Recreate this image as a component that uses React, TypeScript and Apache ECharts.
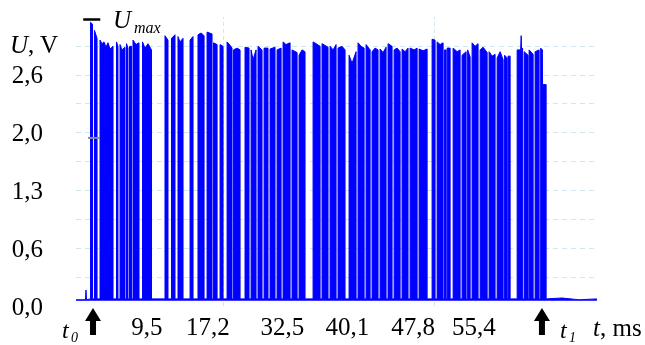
import { useEffect, useRef } from 'react';
import * as echarts from 'echarts';

// ---- data (time in ms, voltage in V) ----
// high pulses: rise and fall times
const pulseStart = [2.87, 3.33, 3.98, 5.91, 6.32, 7.08, 7.43, 7.84, 8.95, 11.58, 12.34, 13.10, 14.51, 15.44, 16.50, 17.26, 18.02, 18.84, 19.60, 20.94, 21.65, 22.46, 23.17, 23.87, 24.69, 25.39, 26.44, 27.26, 28.90, 29.95, 30.89, 31.82, 33.11, 34.16, 35.10, 35.80, 36.74, 37.67, 38.38, 39.31, 40.25, 41.30, 42.82, 43.41, 44.28, 44.58, 45.28, 46.33, 46.98, 47.50, 48.44, 49.49, 50.43, 51.30, 51.71, 52.77, 53.59, 54.17, 54.87, 55.52];
const pulseEnd = [3.10, 3.63, 5.50, 6.08, 6.90, 7.25, 7.66, 8.54, 10.00, 11.93, 12.75, 13.69, 14.86, 16.15, 17.08, 17.67, 18.37, 19.42, 20.36, 21.41, 22.23, 22.93, 23.63, 24.45, 25.16, 26.21, 27.03, 27.96, 29.72, 30.65, 31.59, 32.64, 33.93, 34.87, 35.57, 36.50, 37.44, 38.14, 39.08, 40.01, 41.07, 42.24, 43.17, 44.11, 44.46, 44.93, 46.10, 46.80, 47.27, 48.20, 49.26, 50.19, 51.13, 51.60, 51.95, 53.41, 54.05, 54.64, 55.34, 56.16];
// top contour of the pulses
const topT = [
  2.87, 3.10, 3.33, 3.63, 3.98, 4.21, 4.45, 4.68, 4.91, 5.15, 5.50, 5.91, 6.08, 6.32, 6.55, 6.90, 7.08, 7.25, 7.43, 7.66,
  7.84, 8.19, 8.54, 8.95, 9.24, 9.59, 10.00, 11.58, 11.93, 12.34, 12.75, 13.10, 13.34, 13.69, 14.51, 14.86, 15.44, 15.80, 16.15,
  16.50, 17.08, 17.26, 17.67, 18.02, 18.37, 18.84, 19.13, 19.42, 19.60, 20.01, 20.36, 20.94, 21.41, 21.65, 21.88, 22.23,
  22.46, 22.93, 23.17, 23.63, 23.87, 24.45, 24.69, 25.16, 25.39, 25.74, 26.21, 26.44, 27.03, 27.26, 27.61, 27.96,
  28.90, 29.25, 29.72, 29.95, 30.65, 30.89, 31.24, 31.59, 31.82, 32.29, 32.64, 33.11, 33.46, 33.93, 34.16, 34.52, 34.87,
  35.10, 35.57, 35.80, 36.15, 36.50, 36.74, 37.09, 37.44, 37.67, 38.14, 38.38, 38.73, 39.08, 39.31, 39.66, 40.01,
  40.25, 40.72, 41.07, 41.30, 41.77, 42.24, 42.82, 43.17, 43.41, 43.76, 44.11, 44.28, 44.46, 44.58, 44.93,
  45.28, 45.75, 46.10, 46.33, 46.80, 46.98, 47.27, 47.50, 47.85, 48.20, 48.44, 48.79, 49.26, 49.49, 49.84, 50.19,
  50.43, 50.78, 51.13, 51.30, 51.60, 51.71, 51.95, 52.77, 53.18, 53.24, 53.30, 53.41, 53.59, 54.05, 54.17, 54.64,
  54.87, 55.34, 55.52, 55.72, 55.74, 56.16,
];
const topU = [
  3.19, 3.17, 3.10, 3.01, 2.99, 2.95, 2.97, 2.91, 2.96, 2.89, 2.92, 2.97, 2.92, 2.94, 2.88, 2.91, 2.95, 2.90, 2.92, 2.92,
  2.99, 2.94, 2.96, 2.97, 2.90, 2.95, 2.88, 3.04, 2.99, 3.01, 3.05, 3.03, 2.97, 3.01, 2.99, 3.03, 3.05, 3.07, 3.04,
  3.08, 3.06, 2.96, 2.94, 2.94, 2.92, 2.97, 2.94, 2.90, 2.88, 2.90, 2.88, 2.91, 2.90, 2.88, 2.77, 2.88,
  2.92, 2.88, 2.90, 2.90, 2.89, 2.91, 2.88, 2.90, 2.97, 2.94, 2.96, 2.88, 2.85, 2.82, 2.88, 2.86,
  2.97, 2.95, 2.92, 2.95, 2.91, 2.92, 2.88, 2.94, 2.90, 2.92, 2.88, 2.82, 2.73, 2.86, 2.96, 2.92, 2.90,
  2.94, 2.88, 2.86, 2.90, 2.88, 2.89, 2.85, 2.91, 2.95, 2.92, 2.88, 2.90, 2.86, 2.89, 2.86, 2.90,
  2.90, 2.88, 2.90, 2.89, 2.87, 2.89, 3.00, 2.99, 2.97, 2.94, 2.96, 2.88, 2.88, 2.90, 2.90,
  2.90, 2.86, 2.88, 2.82, 2.86, 2.88, 2.80, 2.96, 2.92, 2.95, 2.88, 2.91, 2.85, 2.86, 2.81, 2.83,
  2.79, 2.86, 2.77, 2.82, 2.79, 2.81, 2.81, 2.88, 2.88, 3.04, 2.88, 2.90, 2.86, 2.82, 2.88, 2.83,
  2.86, 2.88, 2.90, 2.88, 2.49, 2.49,
];
const leadT = [1.17, 2.28, 2.34, 2.4];
const leadU = [0.07, 0.07, 0.18, 0.07];
const endT = [58.0, 60.0, 62.1];
const endU = [0.09, 0.07, 0.08];
const lowU = 0.08;

const xMin = 1.17;
const xMax = 62.11;
const yStep = 0.325;
const yTickLabels = ['0,0', '0,6', '1,3', '2,0', '2,6'];
const xTickPos = [9.47, 16.6, 25.3, 32.9, 40.6, 47.7];
const xTickLabels = ['9,5', '17,2', '32,5', '40,1', '47,8', '55,4'];
const vGridT = [18.36, 43.04];
const t0 = 3.16;
const t1 = 55.67;
const uMax = 3.22;
const cursorU = 1.89;

const FONT = '"Liberation Serif", "Times New Roman", serif';
const GRID_C = '#cfe7ef';

function buildTrace(): [number, number][] {
  const pts: [number, number][] = [];
  leadT.forEach((t, i) => pts.push([t, leadU[i]]));
  pulseStart.forEach((s, i) => {
    const e = pulseEnd[i];
    pts.push([s, lowU]);
    topT.forEach((t, k) => {
      if (t >= s - 1e-6 && t <= e + 1e-6) pts.push([t, topU[k]]);
    });
    pts.push([e, lowU]);
  });
  endT.forEach((t, i) => pts.push([t, endU[i]]));
  return pts;
}

export default function App() {
  const ref = useRef<HTMLDivElement>(null);
  useEffect(() => {
    if (!ref.current) return;
    const chart = echarts.init(ref.current, null, { renderer: 'svg' });
    const splitColors = ['rgba(0,0,0,0)'];
    for (let i = 1; i < 10; i++) splitColors.push(GRID_C);
    splitColors.push('rgba(0,0,0,0)');
    chart.setOption({
      animation: false,
      grid: { left: 76, right: 48, top: 17, bottom: 39 },
      xAxis: {
        type: 'value',
        min: xMin,
        max: xMax,
        axisLine: { show: false },
        axisTick: { show: false },
        splitLine: { show: false },
        axisLabel: {
          customValues: xTickPos,
          margin: 8,
          color: '#000',
          fontFamily: FONT,
          fontSize: 25,
          formatter: (v: number) => {
            const i = xTickPos.findIndex((p) => Math.abs(p - v) < 1e-6);
            return i >= 0 ? xTickLabels[i] : '';
          },
        },
      },
      yAxis: {
        type: 'value',
        min: 0,
        max: 3.25,
        interval: yStep,
        axisLine: { show: false },
        axisTick: { show: false },
        splitLine: { show: true, lineStyle: { color: splitColors, type: [5, 4], width: 1 } },
        axisLabel: {
          margin: 33,
          color: '#000',
          fontFamily: FONT,
          fontSize: 25,
          formatter: (v: number) => {
            const k = Math.round(v / yStep);
            return k % 2 === 0 && k / 2 < yTickLabels.length ? yTickLabels[k / 2] : '';
          },
        },
      },
      series: [
        {
          type: 'line',
          data: [],
          z: 1,
          silent: true,
          markLine: {
            z: 1,
            silent: true,
            symbol: 'none',
            label: { show: false },
            lineStyle: { color: GRID_C, type: [4, 3], width: 1 },
            data: vGridT.map((t) => ({ xAxis: t })),
          },
        },
        {
          type: 'line',
          data: buildTrace(),
          z: 3,
          clip: false,
          showSymbol: false,
          symbol: 'none',
          lineStyle: { color: '#0000ff', width: 1 },
          areaStyle: { color: '#0000ff', opacity: 1, origin: lowU - 0.02 },
          markLine: {
            z: 6,
            silent: true,
            symbol: 'none',
            label: { show: false },
            lineStyle: { color: '#000', type: 'solid', width: 2.5 },
            data: [[{ coord: [t0 - 1.15, uMax] }, { coord: [t0 + 0.85, uMax] }]],
          },
        },
      ],
    });

    const p0 = chart.convertToPixel({ gridIndex: 0 }, [t0, 0]) as number[];
    const p1 = chart.convertToPixel({ gridIndex: 0 }, [t1, 0]) as number[];
    const pm = chart.convertToPixel({ gridIndex: 0 }, [t0, uMax]) as number[];
    const pc = chart.convertToPixel({ gridIndex: 0 }, [t0, cursorU]) as number[];
    const arrow = (cx: number, top: number) => ({
      type: 'polygon',
      shape: {
        points: [
          [cx, top],
          [cx + 8, top + 13],
          [cx + 3, top + 13],
          [cx + 3, top + 27],
          [cx - 3, top + 27],
          [cx - 3, top + 13],
          [cx - 8, top + 13],
        ],
      },
      style: { fill: '#000' },
    });
    const txt = (x: number, y: number, text: string, size: number, italic: boolean) => ({
      type: 'text',
      x,
      y,
      style: {
        text,
        fill: '#000',
        font: `${italic ? 'italic ' : ''}${size}px ${FONT}`,
        verticalAlign: 'middle',
        align: 'left',
      },
    });
    chart.setOption({
      graphic: [
        arrow(p0[0], p0[1] + 2),
        arrow(p1[0], p1[1] + 2),
        txt(p0[0] - 31, p0[1] + 24, 't', 24, true),
        txt(p0[0] - 22, p0[1] + 31, '0', 14, true),
        txt(p1[0] + 18, p1[1] + 24, 't', 24, true),
        txt(p1[0] + 27, p1[1] + 31, '1', 14, true),
        {
          type: 'text',
          x: 593,
          y: 327,
          style: {
            text: '{i|t}{n|, ms}',
            verticalAlign: 'middle',
            rich: {
              i: { fontFamily: FONT, fontStyle: 'italic', fontSize: 25, fill: '#000' },
              n: { fontFamily: FONT, fontSize: 25, fill: '#000' },
            },
          },
        },
        {
          type: 'text',
          x: 10,
          y: 44,
          style: {
            text: '{i|U}{n|, V}',
            verticalAlign: 'middle',
            rich: {
              i: { fontFamily: FONT, fontStyle: 'italic', fontSize: 25, fill: '#000' },
              n: { fontFamily: FONT, fontSize: 25, fill: '#000' },
            },
          },
        },
        txt(pm[0] + 20, pm[1] + 0, 'U', 25, true),
        txt(pm[0] + 41, pm[1] + 8, 'max', 16, true),
        {
          type: 'line',
          z: 10,
          shape: { x1: pc[0] - 5, y1: pc[1], x2: pc[0] + 7, y2: pc[1] },
          style: { stroke: '#8a8aa0', lineWidth: 2 },
        },
      ],
    });
    return () => chart.dispose();
  }, []);
  return <div ref={ref} style={{ position: 'fixed', left: 0, top: 0, width: 645, height: 345 }} />;
}
